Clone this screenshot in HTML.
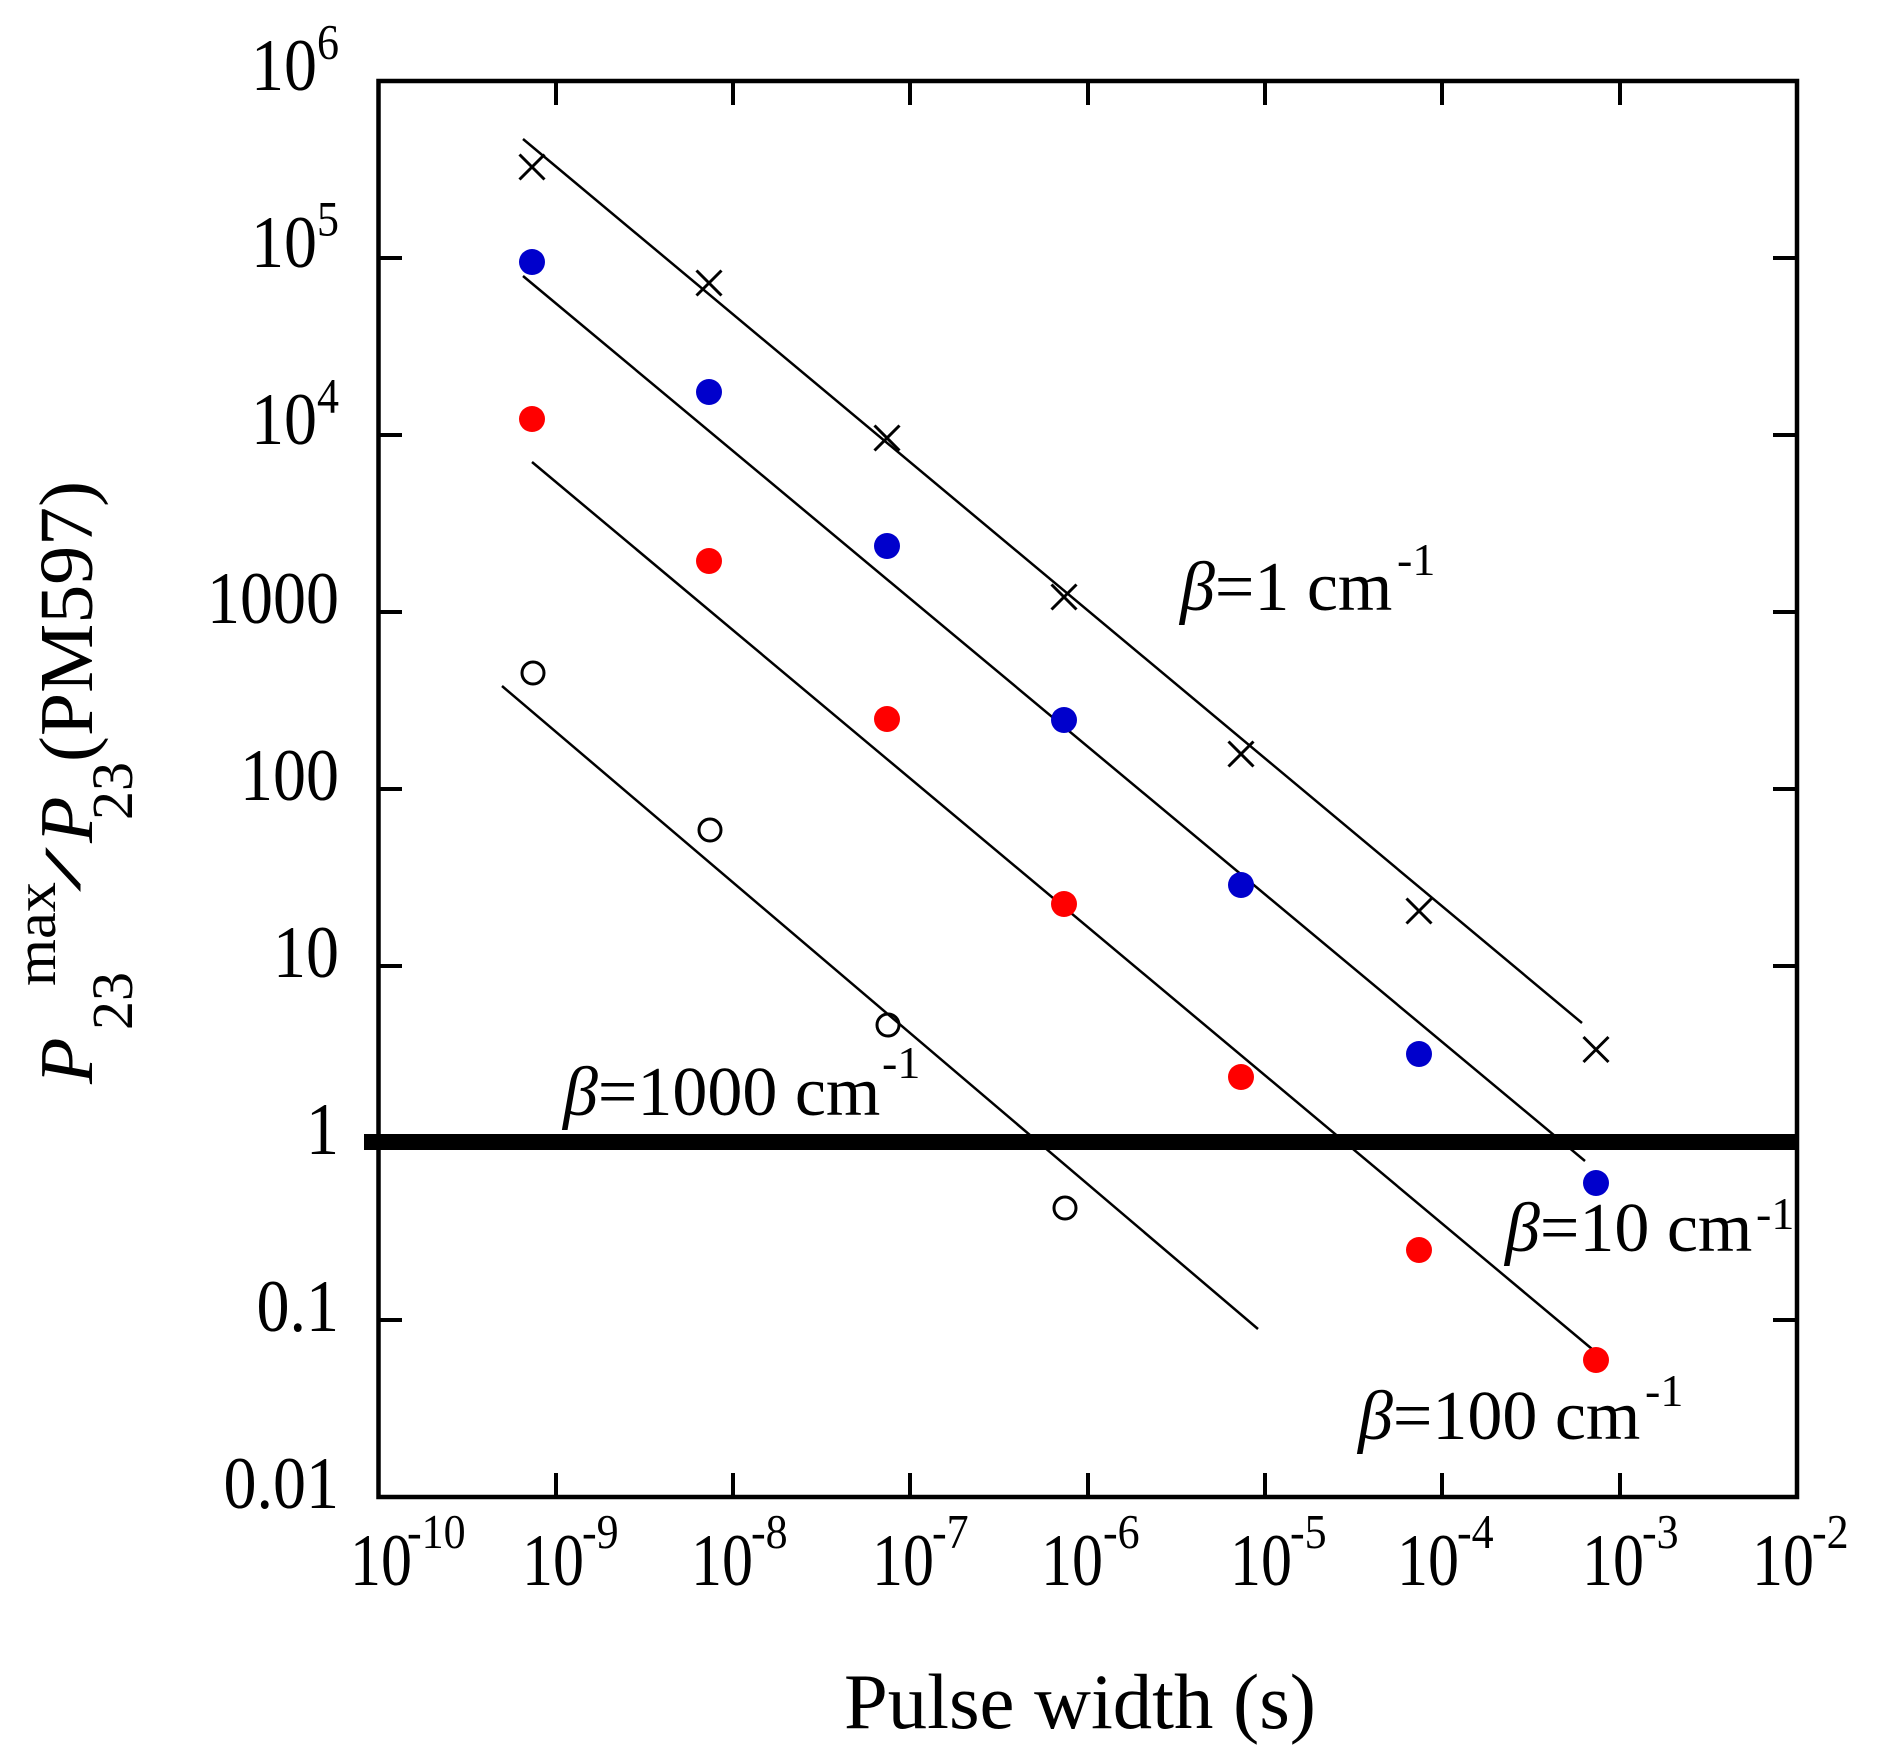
<!DOCTYPE html>
<html>
<head>
<meta charset="utf-8">
<style>
  html,body{margin:0;padding:0;background:#fff;}
  svg{display:block;}
  text{font-family:"Liberation Serif","DejaVu Serif",serif;fill:#000;}
</style>
</head>
<body>
<svg width="1877" height="1761" viewBox="0 0 1877 1761" xmlns="http://www.w3.org/2000/svg">
  <rect x="0" y="0" width="1877" height="1761" fill="#fff"/>

  <!-- fitted lines -->
  <g stroke="#000" stroke-width="2.5" fill="none">
    <line x1="523" y1="139" x2="1582" y2="1023"/>
    <line x1="523" y1="276" x2="1585" y2="1161"/>
    <line x1="532" y1="462" x2="1592" y2="1349"/>
    <line x1="502" y1="686" x2="1258" y2="1329"/>
  </g>

  <!-- thick line at 1 -->
  <line x1="364" y1="1142" x2="1797" y2="1142" stroke="#000" stroke-width="16"/>

  <!-- axes box -->
  <rect x="378.5" y="81" width="1418.5" height="1416" fill="none" stroke="#000" stroke-width="4.5"/>

  <!-- ticks -->
  <g stroke="#000" stroke-width="4">
    <line x1="378" y1="258" x2="402" y2="258"/><line x1="1797" y1="258" x2="1773" y2="258"/>
    <line x1="378" y1="435" x2="402" y2="435"/><line x1="1797" y1="435" x2="1773" y2="435"/>
    <line x1="378" y1="612" x2="402" y2="612"/><line x1="1797" y1="612" x2="1773" y2="612"/>
    <line x1="378" y1="789" x2="402" y2="789"/><line x1="1797" y1="789" x2="1773" y2="789"/>
    <line x1="378" y1="966" x2="402" y2="966"/><line x1="1797" y1="966" x2="1773" y2="966"/>
    <line x1="1797" y1="1143" x2="1773" y2="1143"/>
    <line x1="378" y1="1320" x2="402" y2="1320"/><line x1="1797" y1="1320" x2="1773" y2="1320"/>
    <line x1="556" y1="81" x2="556" y2="105"/><line x1="556" y1="1497" x2="556" y2="1473"/>
    <line x1="733" y1="81" x2="733" y2="105"/><line x1="733" y1="1497" x2="733" y2="1473"/>
    <line x1="910" y1="81" x2="910" y2="105"/><line x1="910" y1="1497" x2="910" y2="1473"/>
    <line x1="1088" y1="81" x2="1088" y2="105"/><line x1="1088" y1="1497" x2="1088" y2="1473"/>
    <line x1="1265" y1="81" x2="1265" y2="105"/><line x1="1265" y1="1497" x2="1265" y2="1473"/>
    <line x1="1442" y1="81" x2="1442" y2="105"/><line x1="1442" y1="1497" x2="1442" y2="1473"/>
    <line x1="1620" y1="81" x2="1620" y2="105"/><line x1="1620" y1="1497" x2="1620" y2="1473"/>
  </g>

  <!-- crosses -->
  <g stroke="#000" stroke-width="3">
    <path d="M519.5 154.5 L544.5 179.5 M544.5 154.5 L519.5 179.5"/>
    <path d="M696.5 270.5 L721.5 295.5 M721.5 270.5 L696.5 295.5"/>
    <path d="M874.5 425.5 L899.5 450.5 M899.5 425.5 L874.5 450.5"/>
    <path d="M1051.5 584.5 L1076.5 609.5 M1076.5 584.5 L1051.5 609.5"/>
    <path d="M1228.5 741.5 L1253.5 766.5 M1253.5 741.5 L1228.5 766.5"/>
    <path d="M1406.5 898.5 L1431.5 923.5 M1431.5 898.5 L1406.5 923.5"/>
    <path d="M1583.5 1037 L1608.5 1062 M1608.5 1037 L1583.5 1062"/>
  </g>

  <!-- blue filled -->
  <g fill="#0000cc">
    <circle cx="532" cy="262" r="13"/>
    <circle cx="709" cy="392" r="13"/>
    <circle cx="887" cy="546" r="13"/>
    <circle cx="1064" cy="720" r="13"/>
    <circle cx="1241" cy="885" r="13"/>
    <circle cx="1419" cy="1054" r="13"/>
    <circle cx="1596" cy="1183" r="13"/>
  </g>

  <!-- red filled -->
  <g fill="#ff0000">
    <circle cx="532" cy="419" r="13"/>
    <circle cx="709" cy="561" r="13"/>
    <circle cx="887" cy="719" r="13"/>
    <circle cx="1064" cy="904" r="13"/>
    <circle cx="1241" cy="1077" r="13"/>
    <circle cx="1419" cy="1250" r="13"/>
    <circle cx="1596" cy="1360" r="13"/>
  </g>

  <!-- open circles -->
  <g fill="none" stroke="#000" stroke-width="3">
    <circle cx="533" cy="673" r="11"/>
    <circle cx="710" cy="830" r="11"/>
    <circle cx="888" cy="1025" r="11"/>
    <circle cx="1065" cy="1208" r="11"/>
  </g>

  <!-- y tick labels -->
  <g font-size="66">
    <text transform="translate(339,90) scale(1,1.12)" text-anchor="end">10<tspan font-size="44" dy="-28">6</tspan></text>
    <text transform="translate(339,267) scale(1,1.12)" text-anchor="end">10<tspan font-size="44" dy="-28">5</tspan></text>
    <text transform="translate(339,444) scale(1,1.12)" text-anchor="end">10<tspan font-size="44" dy="-28">4</tspan></text>
    <text transform="translate(339,623) scale(1,1.12)" text-anchor="end">1000</text>
    <text transform="translate(339,800) scale(1,1.12)" text-anchor="end">100</text>
    <text transform="translate(339,977) scale(1,1.12)" text-anchor="end">10</text>
    <text transform="translate(339,1154) scale(1,1.12)" text-anchor="end">1</text>
    <text transform="translate(339,1331) scale(1,1.12)" text-anchor="end">0.1</text>
    <text transform="translate(339,1508) scale(1,1.12)" text-anchor="end">0.01</text>
  </g>

  <!-- x tick labels -->
  <g font-size="62">
    <text transform="translate(350,1585) scale(1,1.2)">10</text>
    <text transform="translate(522,1585) scale(1,1.2)">10</text>
    <text transform="translate(691,1585) scale(1,1.2)">10</text>
    <text transform="translate(872,1585) scale(1,1.2)">10</text>
    <text transform="translate(1041,1585) scale(1,1.2)">10</text>
    <text transform="translate(1230,1585) scale(1,1.2)">10</text>
    <text transform="translate(1397,1585) scale(1,1.2)">10</text>
    <text transform="translate(1582,1585) scale(1,1.2)">10</text>
    <text transform="translate(1752,1585) scale(1,1.2)">10</text>
  </g>
  <g font-size="44">
    <text transform="translate(407,1548) scale(1,1.1)">-10</text>
    <text transform="translate(582,1548) scale(1,1.1)">-9</text>
    <text transform="translate(751,1548) scale(1,1.1)">-8</text>
    <text transform="translate(932,1548) scale(1,1.1)">-7</text>
    <text transform="translate(1103,1548) scale(1,1.1)">-6</text>
    <text transform="translate(1290,1548) scale(1,1.1)">-5</text>
    <text transform="translate(1457,1548) scale(1,1.1)">-4</text>
    <text transform="translate(1642,1548) scale(1,1.1)">-3</text>
    <text transform="translate(1812,1548) scale(1,1.1)">-2</text>
  </g>

  <!-- x axis title -->
  <text x="844" y="1728" font-size="78" textLength="472" lengthAdjust="spacingAndGlyphs">Pulse width (s)</text>

  <!-- y axis title (rotated pieces) -->
  <text transform="translate(92,1084) rotate(-90)" font-size="76" font-style="italic">P</text>
  <text transform="translate(132,1030) rotate(-90)" font-size="58" textLength="58" lengthAdjust="spacingAndGlyphs">23</text>
  <text transform="translate(55,986) rotate(-90)" font-size="58" textLength="104" lengthAdjust="spacingAndGlyphs">max</text>
  <text transform="translate(80,892) rotate(-90)" font-size="52" textLength="45" lengthAdjust="spacingAndGlyphs">/</text>
  <text transform="translate(92,843) rotate(-90)" font-size="76" font-style="italic">P</text>
  <text transform="translate(132,820) rotate(-90)" font-size="58" textLength="58" lengthAdjust="spacingAndGlyphs">23</text>
  <text transform="translate(92,762) rotate(-90)" font-size="76" textLength="281" lengthAdjust="spacingAndGlyphs">(PM597)</text>

  <!-- annotations -->
  <g font-size="70">
    <text x="1180" y="610"><tspan font-style="italic">β</tspan>=1 cm</text>
    <text x="563" y="1115"><tspan font-style="italic">β</tspan>=1000 cm</text>
    <text x="1505" y="1251"><tspan font-style="italic">β</tspan>=10 cm</text>
    <text x="1358" y="1439"><tspan font-style="italic">β</tspan>=100 cm</text>
  </g>
  <g font-size="46">
    <text x="1397" y="575">-1</text>
    <text x="882" y="1078">-1</text>
    <text x="1756" y="1229">-1</text>
    <text x="1645" y="1406">-1</text>
  </g>
</svg>
</body>
</html>
